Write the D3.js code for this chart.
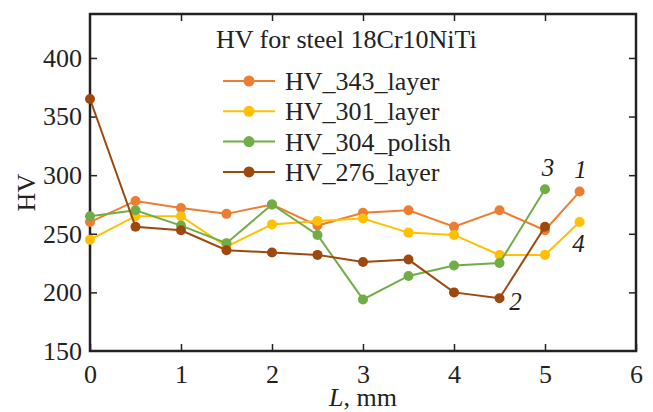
<!DOCTYPE html>
<html>
<head>
<meta charset="utf-8">
<script src="https://cdn.jsdelivr.net/npm/d3@7"></script>
<style>
  body { margin: 0; background: #fff; }
  .tick text { font-size: 26px; fill: #222; }
  .tick line { stroke: #222; stroke-width: 1.5; }
</style>
</head>
<body>
<svg id="chart" width="653" height="412"></svg>
<script>
// data
const seriesNames = ["HV_343_layer", "HV_301_layer", "HV_304_polish", "HV_276_layer"];
const seriesColors = ["#ED7D31", "#FFC000", "#70AD47", "#9E480E"];
const curveLabels = ["1", "4", "3", "2"];

const L_long = [0, 0.5, 1, 1.5, 2, 2.5, 3, 3.5, 4, 4.5, 5, 5.38];
const L_short = [0, 0.5, 1, 1.5, 2, 2.5, 3, 3.5, 4, 4.5, 5];

const hv343 = [260, 278, 272, 267, 275, 257, 268, 270, 256, 270, 253, 286];
const hv301 = [245, 265, 265, 239, 258, 261, 263, 251, 249, 232, 232, 260];
const hv304 = [265, 270, 257, 242, 275, 249, 194, 214, 223, 225, 288];
const hv276 = [365, 256, 253, 236, 234, 232, 226, 228, 200, 195, 256];

const xTicks = [0, 1, 2, 3, 4, 5, 6];
const yTicks = [150, 200, 250, 300, 350, 400];

const FONT = '"Liberation Serif", "Times New Roman", Tinos, serif';

const svg = d3.select("#chart");
const margin = { top: 14, right: 17, bottom: 61, left: 90 };
const width = +svg.attr("width");
const height = +svg.attr("height");
const innerWidth = width - margin.left - margin.right;
const innerHeight = height - margin.top - margin.bottom;

const xScale = d3.scaleLinear().domain([0, 6]).range([0, innerWidth]);
const yScale = d3.scaleLinear().domain([150, 437.5]).range([innerHeight, 0]);

const g = svg.append("g")
  .attr("transform", `translate(${margin.left},${margin.top})`);

// axes, ticks pointing inward
const xAxisG = g.append("g")
  .attr("transform", `translate(0,${innerHeight})`)
  .call(d3.axisBottom(xScale).tickValues(xTicks).tickSize(-7).tickPadding(14).tickFormat(d3.format("d")));
xAxisG.select(".domain").remove();
xAxisG.selectAll(".tick text").attr("dy", "0.71em");

const xTopG = g.append("g")
  .call(d3.axisTop(xScale).tickValues(xTicks.slice(1, -1)).tickSize(-7).tickFormat(""));
xTopG.select(".domain").remove();

const yAxisG = g.append("g")
  .call(d3.axisLeft(yScale).tickValues(yTicks).tickSize(-7).tickPadding(8));
yAxisG.select(".domain").remove();
yAxisG.selectAll(".tick line").filter((d) => d === 150).remove();

const yRightG = g.append("g")
  .attr("transform", `translate(${innerWidth},0)`)
  .call(d3.axisRight(yScale).tickValues(yTicks.slice(1)).tickSize(-7).tickFormat(""));
yRightG.select(".domain").remove();

// frame
g.append("rect")
  .attr("width", innerWidth)
  .attr("height", innerHeight)
  .attr("fill", "none")
  .attr("stroke", "#222")
  .attr("stroke-width", 2.5);

// lines
const allSeries = [
  { name: seriesNames[0], color: seriesColors[0], xs: L_long, ys: hv343 },
  { name: seriesNames[1], color: seriesColors[1], xs: L_long, ys: hv301 },
  { name: seriesNames[2], color: seriesColors[2], xs: L_short, ys: hv304 },
  { name: seriesNames[3], color: seriesColors[3], xs: L_short, ys: hv276 },
];

const line = d3.line()
  .x((d) => xScale(d[0]))
  .y((d) => yScale(d[1]));

allSeries.forEach((s) => {
  const pts = s.xs.map((x, i) => [x, s.ys[i]]);
  g.append("path")
    .attr("d", line(pts))
    .attr("fill", "none")
    .attr("stroke", s.color)
    .attr("stroke-width", 2);
  g.selectAll(null)
    .data(pts)
    .enter()
    .append("circle")
    .attr("cx", (d) => xScale(d[0]))
    .attr("cy", (d) => yScale(d[1]))
    .attr("r", 5)
    .attr("fill", s.color);
});

// curve numbers
const labelAnchors = [
  { s: 0, i: 11, dx: 1, dy: -14 },
  { s: 1, i: 11, dx: -1, dy: 30 },
  { s: 2, i: 10, dx: 3, dy: -13 },
  { s: 3, i: 9, dx: 16, dy: 12 },
];
labelAnchors.forEach((a, k) => {
  const s = allSeries[a.s];
  g.append("text")
    .attr("x", xScale(s.xs[a.i]) + a.dx)
    .attr("y", yScale(s.ys[a.i]) + a.dy)
    .attr("text-anchor", "middle")
    .attr("font-style", "italic")
    .attr("font-size", 25)
    .attr("fill", "#222")
    .text(curveLabels[k]);
});

// legend
const legend = svg.append("g").attr("transform", "translate(216,0)");
legend.append("text")
  .attr("x", 0)
  .attr("y", 48)
  .attr("font-size", 26)
  .attr("fill", "#222")
  .text("HV for steel 18Cr10NiTi");

const items = legend.selectAll(".item")
  .data(allSeries)
  .enter()
  .append("g")
  .attr("class", "item")
  .attr("transform", (d, i) => `translate(0,${81 + i * 30.3})`);
items.append("line")
  .attr("x1", 7).attr("x2", 59)
  .attr("stroke", (d) => d.color)
  .attr("stroke-width", 2);
items.append("circle")
  .attr("cx", 33).attr("r", 5.5)
  .attr("fill", (d) => d.color);
items.append("text")
  .attr("x", 69)
  .attr("dy", "0.35em")
  .attr("font-size", 26)
  .attr("fill", "#222")
  .text((d) => d.name);

// axis titles
svg.append("text")
  .attr("transform", `translate(35,${margin.top + innerHeight * 0.53}) rotate(-90)`)
  .attr("text-anchor", "middle")
  .attr("font-size", 26)
  .attr("fill", "#222")
  .text("HV");

const xTitle = svg.append("text")
  .attr("x", margin.left + innerWidth / 2)
  .attr("y", 406)
  .attr("text-anchor", "middle")
  .attr("font-size", 26)
  .attr("fill", "#222");
xTitle.append("tspan").attr("font-style", "italic").text("L");
xTitle.append("tspan").text(", mm");

// serif everywhere (axis groups set sans-serif by default)
svg.selectAll("g").attr("font-family", null);
svg.selectAll("text").style("font-family", FONT);
</script>
</body>
</html>
